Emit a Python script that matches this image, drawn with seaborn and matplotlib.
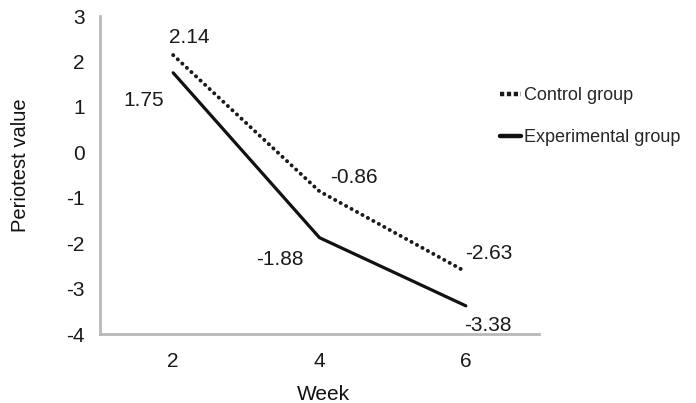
import matplotlib
matplotlib.use("Agg")
import matplotlib.pyplot as plt
import seaborn as sns
import pandas as pd

weeks = [2, 4, 6]
control = [2.14, -0.86, -2.63]
experimental = [1.75, -1.88, -3.38]
groups = ["Control group", "Experimental group"]
y_ticks = [3, 2, 1, 0, -1, -2, -3, -4]

df = pd.DataFrame({
    "Week": weeks * 2,
    "Periotest value": control + experimental,
    "Group": [groups[0]] * 3 + [groups[1]] * 3,
})

sns.set_theme(style="white")
plt.rcParams['font.family'] = ['Liberation Sans', 'DejaVu Sans']
plt.rcParams['axes.unicode_minus'] = False

fig = plt.figure(figsize=(6.96, 4.03), dpi=100)
ax = fig.add_axes([100/696, 1 - 334/403, 439/696, 318/403])

sns.lineplot(data=df, x="Week", y="Periotest value", hue="Group", style="Group",
             palette={groups[0]: "#1a1a1a", groups[1]: "#111111"},
             dashes={groups[0]: (0.05, 1.55), groups[1]: ""},
             ax=ax, legend=True)
lines = ax.get_lines()
lines[0].set_linewidth(2.8)
lines[0].set_dash_capstyle("round")
lines[1].set_linewidth(2.3)

ax.set_xlim(1, 7)
ax.set_ylim(-4, 3)
ax.set_xticks(weeks)
ax.set_yticks(y_ticks)
ax.tick_params(axis='y', direction='inout', length=6, width=1.5, color='#b8b8b8',
               labelsize=15, pad=8, labelcolor='#1a1a1a')
ax.tick_params(axis='x', length=0, labelsize=15, pad=13, labelcolor='#1a1a1a')
for s in ["top", "right"]:
    ax.spines[s].set_visible(False)
for s in ["left", "bottom"]:
    ax.spines[s].set_color('#b8b8b8')
    ax.spines[s].set_linewidth(2)
ax.set_xlabel("Week", fontsize=15, color='#111111')
ax.set_ylabel("Periotest value", fontsize=14.5, color='#111111')
ax.xaxis.set_label_coords((323 - 100) / 439, (334 - 394) / 318)
ax.yaxis.set_label_coords((21 - 100) / 439, (334 - 165) / 318)
ax.xaxis.label.set_va('center')
ax.yaxis.label.set_va('center')

offsets_c = [(16, 18), (34, 14), (23, 18)]
offsets_e = [(-29, -28), (-40, -22), (22, -20)]
for x, v, off in zip(weeks, control, offsets_c):
    ax.annotate(f"{v:.2f}", (x, v), xytext=off, textcoords='offset pixels',
                ha='center', va='center', fontsize=15, color='#1a1a1a')
for x, v, off in zip(weeks, experimental, offsets_e):
    ax.annotate(f"{v:.2f}", (x, v), xytext=off, textcoords='offset pixels',
                ha='center', va='center', fontsize=15, color='#1a1a1a')

leg = ax.legend(loc='center left', bbox_to_anchor=((500 - 100) / 439, (334 - 116.5) / 318),
                frameon=False, borderpad=0, borderaxespad=0,
                handlelength=1.17, handletextpad=0.15, labelspacing=1.4,
                fontsize=13)
hl = leg.get_lines()
for h in hl:
    h.set_linewidth(3.2)
hl[0].set_dashes((0.95, 0.6))
hl[0].set_dash_capstyle("butt")

fig.savefig("out.png", dpi=100)
